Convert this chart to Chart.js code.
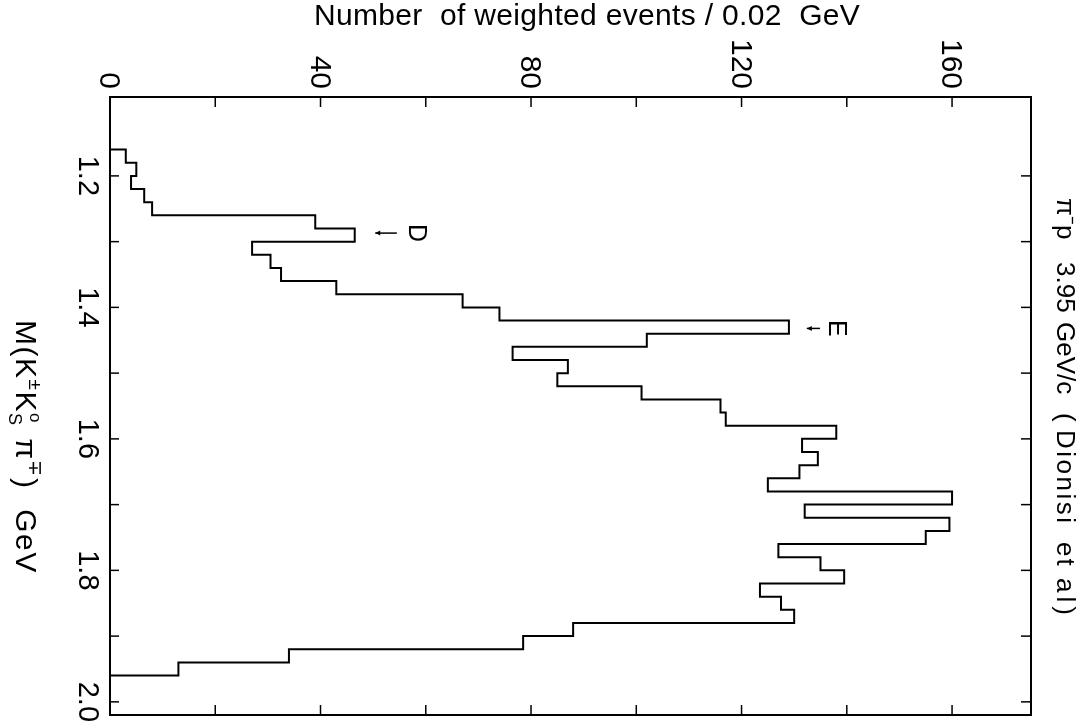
<!DOCTYPE html>
<html><head><meta charset="utf-8">
<script src="https://cdn.jsdelivr.net/npm/chart.js@4"></script>
<style>html,body{margin:0;padding:0;background:#fff}#wrap{width:1086px;height:726px;position:relative}</style>
</head><body><div id="wrap"><canvas id="c"></canvas></div>
<script>
// ---- data ----
const massEdges = [1.16,1.18,1.20,1.22,1.24,1.26,1.28,1.30,1.32,1.34,1.36,1.38,1.40,1.42,1.44,1.46,1.48,1.50,1.52,1.54,1.56,1.58,1.60,1.62,1.64,1.66,1.68,1.70,1.72,1.74,1.76,1.78,1.80,1.82,1.84,1.86,1.88,1.90,1.92,1.94,1.96];
const weightedEvents = [3,5,4,6.5,8,39,46.5,27,30.5,32.5,43,67,74,129,102,76.5,87,85,101,116,117,138,131.5,134.5,131,125,160,132,159.5,155,127,135,139.5,123.5,127.5,130,88,78.5,34,13];
const countTickValues = [0,20,40,60,80,100,120,140,160];
const countLabelValues = [0,40,80,120,160];
const countLabels = ["0","40","80","120","160"];
const massTickValues = [1.2,1.3,1.4,1.5,1.6,1.7,1.8,1.9,2.0];
const massLabelValues = [1.2,1.4,1.6,1.8,2.0];
const massLabels = ["1.2","1.4","1.6","1.8","2.0"];
const markerNames = ["D","E"];
const markerMass = [1.287,1.432];
const topTitle = "Number  of weighted events / 0.02  GeV";
// [text, start y, letter spacing]
const rightText = [["π⁻p",198,0],["3.95",262,0],["GeV/c",322,0],["(",413,0],["Dionisi",430,2.5],["et",542,2],["al)",578,4]];

// annotation geometry (in count units), separate from data
const markerTip = [50.4,132.4], markerTail = [54.5,134.9], markerLabelAt = [58.5,138.3];

const outline = [{x:0,y:massEdges[0]}];
weightedEvents.forEach((v,i)=>outline.push({x:v,y:massEdges[i]}));
outline.push({x:0,y:massEdges[massEdges.length-1]});

const F = "'Liberation Sans', Arial, sans-serif";

function rot(ctx, text, x, y, font, align, ls){
  ctx.save(); ctx.translate(x,y); ctx.rotate(Math.PI/2);
  ctx.font=font; ctx.textAlign=align; ctx.textBaseline='alphabetic';
  ctx.letterSpacing=(ls||0)+'px';
  ctx.fillText(text,0,0); ctx.restore();
}

const deco = {
  id:'deco',
  afterDraw(chart){
    const {ctx, chartArea:a, scales:{x,y}} = chart;
    ctx.save();
    ctx.fillStyle='#000'; ctx.strokeStyle='#000';
    // frame
    ctx.lineWidth=2;
    ctx.strokeRect(a.left,a.top,a.right-a.left,a.bottom-a.top);
    // inward ticks
    ctx.lineWidth=1.5;
    const L=(x1,y1,x2,y2)=>{ctx.beginPath();ctx.moveTo(x1,y1);ctx.lineTo(x2,y2);ctx.stroke();};
    countTickValues.forEach(v=>{const p=x.getPixelForValue(v); if(v>0){L(p,a.top,p,a.top+10);L(p,a.bottom,p,a.bottom-10);}});
    massTickValues.forEach(v=>{const p=y.getPixelForValue(v); L(a.left,p,a.left+9,p);L(a.right,p,a.right-10,p);});
    // top tick labels (rotated clockwise)
    countLabelValues.forEach((v,i)=>{const p=x.getPixelForValue(v); rot(ctx,countLabels[i],p-10,a.top-8,"30px "+F,'right');});
    // left tick labels
    massLabelValues.forEach((v,i)=>{const p=y.getPixelForValue(v); rot(ctx,massLabels[i],79,p,"29px "+F,'center');});
    // top title
    ctx.font="30px "+F; ctx.textAlign='left'; ctx.textBaseline='alphabetic';
    ctx.letterSpacing='0px';
    const w=ctx.measureText(topTitle).width;
    const target=546;
    ctx.letterSpacing=((target-w)/(topTitle.length-1)).toFixed(2)+'px';
    ctx.fillText(topTitle,314,25);
    ctx.letterSpacing='0px';
    // left axis title (rotated, with super/subscripts)
    ctx.save(); ctx.translate(16,320); ctx.rotate(Math.PI/2);
    ctx.textAlign='left'; ctx.textBaseline='alphabetic';
    let cx=0;
    const seg=(t,size,dy,adv=true)=>{ctx.font=size+"px "+F; ctx.letterSpacing='1.5px'; ctx.fillText(t,cx,dy); const ww=ctx.measureText(t).width; if(adv) cx+=ww; return ww;};
    seg("M(K",30,0); seg("±",19,-13); seg("K",30,0);
    const w1=seg("o",17,-14,false); const w2=seg("S",18,7,false); cx+=Math.max(w1,w2)+2;
    seg(" π",30,0); seg("∓",19,-13); seg(")  GeV",30,0);
    ctx.restore();
    // right text
    rightText.forEach(([t,yy,ls])=>rot(ctx,t,1057,yy,"26px "+F,'left',ls));
    // markers D, E
    ctx.lineWidth=1.5;
    markerNames.forEach((n,i)=>{
      const py=y.getPixelForValue(markerMass[i]);
      const t=x.getPixelForValue(markerTip[i]), e=x.getPixelForValue(markerTail[i]);
      L(t,py,e,py);
      ctx.beginPath(); ctx.moveTo(t,py); ctx.lineTo(t+5,py-2.5); ctx.lineTo(t+5,py+2.5); ctx.closePath(); ctx.fill();
      const lp=x.getPixelForValue(markerLabelAt[i]);
      rot(ctx,n,lp-9,py,"25px "+F,'center');
    });
    ctx.restore();
  }
};

new Chart(document.getElementById('c'),{
  type:'scatter',
  data:{datasets:[{data:outline,showLine:true,stepped:'after',borderColor:'#000',borderWidth:2,pointRadius:0,fill:false}]},
  options:{
    responsive:true,maintainAspectRatio:false,animation:false,devicePixelRatio:1,
    layout:{padding:{left:110,top:97,right:55,bottom:11}},
    plugins:{legend:{display:false},tooltip:{enabled:false},title:{display:false}},
    scales:{
      x:{type:'linear',position:'top',min:0,max:175,display:false},
      y:{type:'linear',position:'left',reverse:true,min:1.08,max:2.02,display:false}
    }
  },
  plugins:[deco]
});
</script></body></html>
